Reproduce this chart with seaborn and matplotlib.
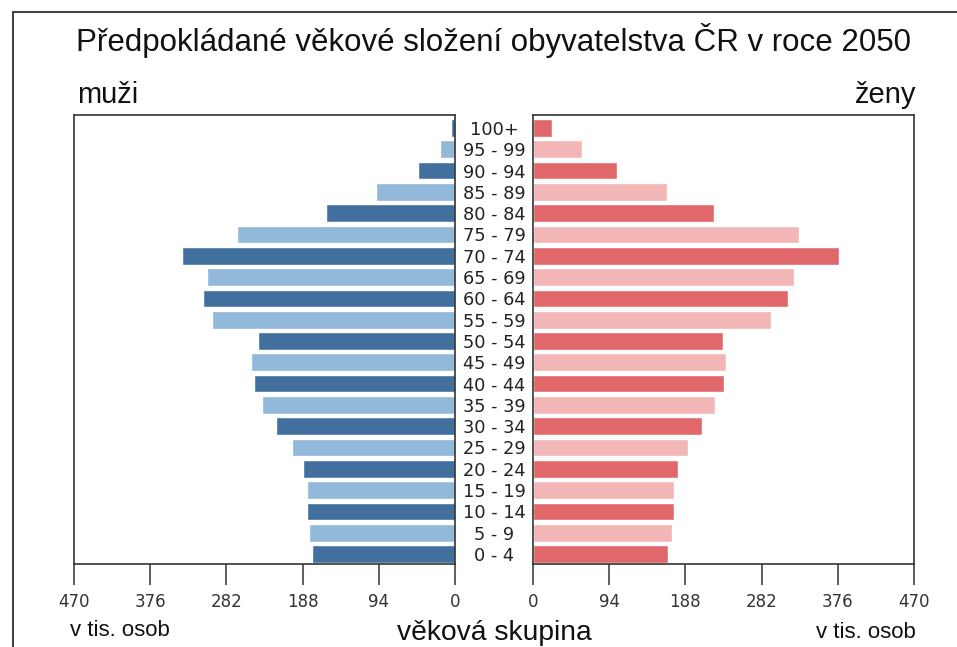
import matplotlib
matplotlib.use("Agg")
import matplotlib.pyplot as plt
from matplotlib.lines import Line2D
import seaborn as sns
import pandas as pd

age_groups = ["100+", "95 - 99", "90 - 94", "85 - 89", "80 - 84", "75 - 79", "70 - 74",
              "65 - 69", "60 - 64", "55 - 59", "50 - 54", "45 - 49", "40 - 44", "35 - 39",
              "30 - 34", "25 - 29", "20 - 24", "15 - 19", "10 - 14", "5 - 9", "0 - 4"]
men = [5, 18, 46, 98, 159, 269, 337, 306, 311, 300, 243, 252, 248, 238, 221, 201,
       187, 183, 183, 180, 176]
women = [24, 61, 104, 165, 223, 328, 377, 322, 314, 293, 234, 238, 235, 225, 209, 191,
         179, 174, 174, 172, 166]
ticks = [0, 94, 188, 282, 376, 470]
tick_labels = ["0", "94", "188", "282", "376", "470"]

title = "Předpokládané věkové složení obyvatelstva ČR v roce 2050"
men_label = "muži"
women_label = "ženy"
unit_label = "v tis. osob"
age_label = "věková skupina"

men_colors = ["#41709e" if i % 2 == 0 else "#92b8da" for i in range(len(age_groups))]
women_colors = ["#e0676a" if i % 2 == 0 else "#f3b6b6" for i in range(len(age_groups))]

df = pd.DataFrame({"age": age_groups, "men": men, "women": women})

sns.set_theme(style="white")
plt.rcParams["font.family"] = ["DejaVu Sans"]

W, H = 957, 647
fig = plt.figure(figsize=(W / 100, H / 100), dpi=100)
fig.patch.set_facecolor("white")

ax_l = fig.add_axes([74 / W, 1 - 564 / H, 381 / W, 449 / H])
ax_r = fig.add_axes([533 / W, 1 - 564 / H, 381 / W, 449 / H])

sns.barplot(data=df, x="men", y="age", hue="age", palette=men_colors, legend=False,
            orient="h", width=0.83, ax=ax_l, saturation=1)
sns.barplot(data=df, x="women", y="age", hue="age", palette=women_colors, legend=False,
            orient="h", width=0.83, ax=ax_r, saturation=1)

spine_col = "#333333"
for ax in (ax_l, ax_r):
    ax.set_ylim(20.47, -0.61)
    ax.set_xticks(ticks)
    ax.set_xticklabels(tick_labels)
    ax.set_xlabel("")
    ax.set_ylabel("")
    for s in ax.spines.values():
        s.set_visible(True)
        s.set_color(spine_col)
        s.set_linewidth(1.2)
    ax.tick_params(axis="x", direction="out", length=15, width=1.1, color=spine_col,
                   labelsize=12, labelcolor="#333333", pad=6, bottom=True)
    ax.set_facecolor("white")

ax_l.set_xlim(470, 0)
ax_r.set_xlim(0, 470)

ax_l.set_yticks([])
ax_r.set_yticks(range(len(age_groups)))
ax_r.set_yticklabels(age_groups)
ax_r.tick_params(axis="y", length=0, pad=28, labelsize=12.8, labelcolor="#222222")
for lab in ax_r.get_yticklabels():
    lab.set_horizontalalignment("center")

sans = ["Liberation Sans", "DejaVu Sans"]
fig.text(494 / W, 1 - 40 / H, title, ha="center", va="center", fontsize=22.5,
         family=sans, color="#111111")
fig.text(77 / W, 1 - 95 / H, men_label, ha="left", va="center", fontsize=21,
         family=sans, color="#111111")
fig.text(916 / W, 1 - 95 / H, women_label, ha="right", va="center", fontsize=21,
         family=sans, color="#111111")
fig.text(70 / W, 1 - 631 / H, unit_label, ha="left", va="center", fontsize=16,
         family=sans, color="#111111")
fig.text(916 / W, 1 - 633 / H, unit_label, ha="right", va="center", fontsize=16,
         family=sans, color="#111111")
fig.text(494 / W, 1 - 633 / H, age_label, ha="center", va="center", fontsize=20.3,
         family=sans, color="#111111")

# outer frame (left and top edges)
fig.add_artist(Line2D([13 / W, 13 / W], [0, 1 - 12 / H], transform=fig.transFigure,
                      color="#444444", linewidth=1.5))
fig.add_artist(Line2D([13 / W, 1], [1 - 12 / H, 1 - 12 / H], transform=fig.transFigure,
                      color="#444444", linewidth=1.5))

fig.savefig("out.png", dpi=100)
